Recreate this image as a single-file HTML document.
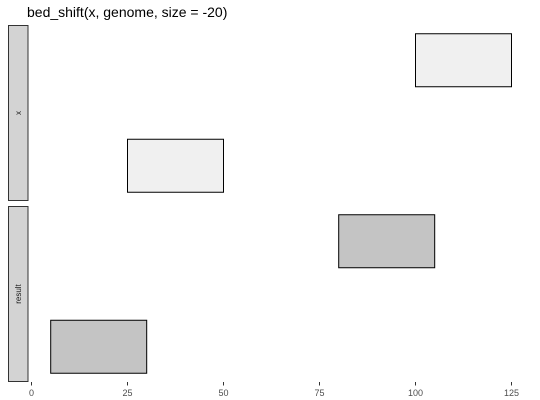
<!DOCTYPE html>
<html><head><meta charset="utf-8"><style>
body{margin:0;background:#fff}
svg{display:block;font-family:"Liberation Sans",Arial,sans-serif}
</style></head><body>
<svg width="540" height="400" viewBox="0 0 540 400">
<text x="27" y="17" font-size="14" fill="#000">bed_shift(x, genome, size = -20)</text>
<g id="panels"></g>
<g id="axis"></g>
</svg>
<script>
const panelNames = ["x", "result"];
const starts = [[100, 25], [80, 5]];
const ends = [[125, 50], [105, 30]];
const rows = [[2, 1], [2, 1]];
const ticks = [0, 25, 50, 75, 100, 125];

const NS = "http://www.w3.org/2000/svg";
const x0 = 31.5, kx = 3.84;
const sx = v => x0 + v * kx;
const panelTop = [25.5, 206.5], panelH = 175;
function mk(tag, attrs, parent){const e=document.createElementNS(NS,tag);for(const k in attrs)e.setAttribute(k,attrs[k]);parent.appendChild(e);return e;}
const gp = document.getElementById("panels");
panelNames.forEach((name, p) => {
  const top = panelTop[p];
  const strip = mk("rect", {x:8.5, y:top, width:19.5, height:panelH, fill:"#d3d3d3", stroke:"#333", "stroke-width":1}, gp);
  
  
  const t = mk("text", {x:0, y:0, "font-size":8, "text-anchor":"middle", fill:"#1a1a1a", transform:`translate(21,${top+panelH/2}) rotate(-90)`}, gp);
  t.textContent = name;
  
  
  const rowY = r => top + panelH / 2 + (1.5 - r) * 105.5;
  const hh = 26.5;
  starts[p].forEach((s, i) => {
    const e = ends[p][i];
    const cy = rowY(rows[p][i]);
    const r = mk("rect", {x:sx(s), y:cy-hh, width:sx(e)-sx(s), height:hh*2, fill: p===0?"#f0f0f0":"#c4c4c4", stroke:"#000", "stroke-width":1}, gp);
    
    
  });
});
const ga = document.getElementById("axis");
ticks.forEach(v => {
  const l = mk("line", {x1:sx(v), x2:sx(v), y1:382, y2:385.5, stroke:"#333", "stroke-width":1}, ga);
  
  
  const t = mk("text", {x:sx(v), y:396, "font-size":9, "text-anchor":"middle", fill:"#4d4d4d"}, ga);
  t.textContent = v;
  
  
});
</script>
</body></html>
